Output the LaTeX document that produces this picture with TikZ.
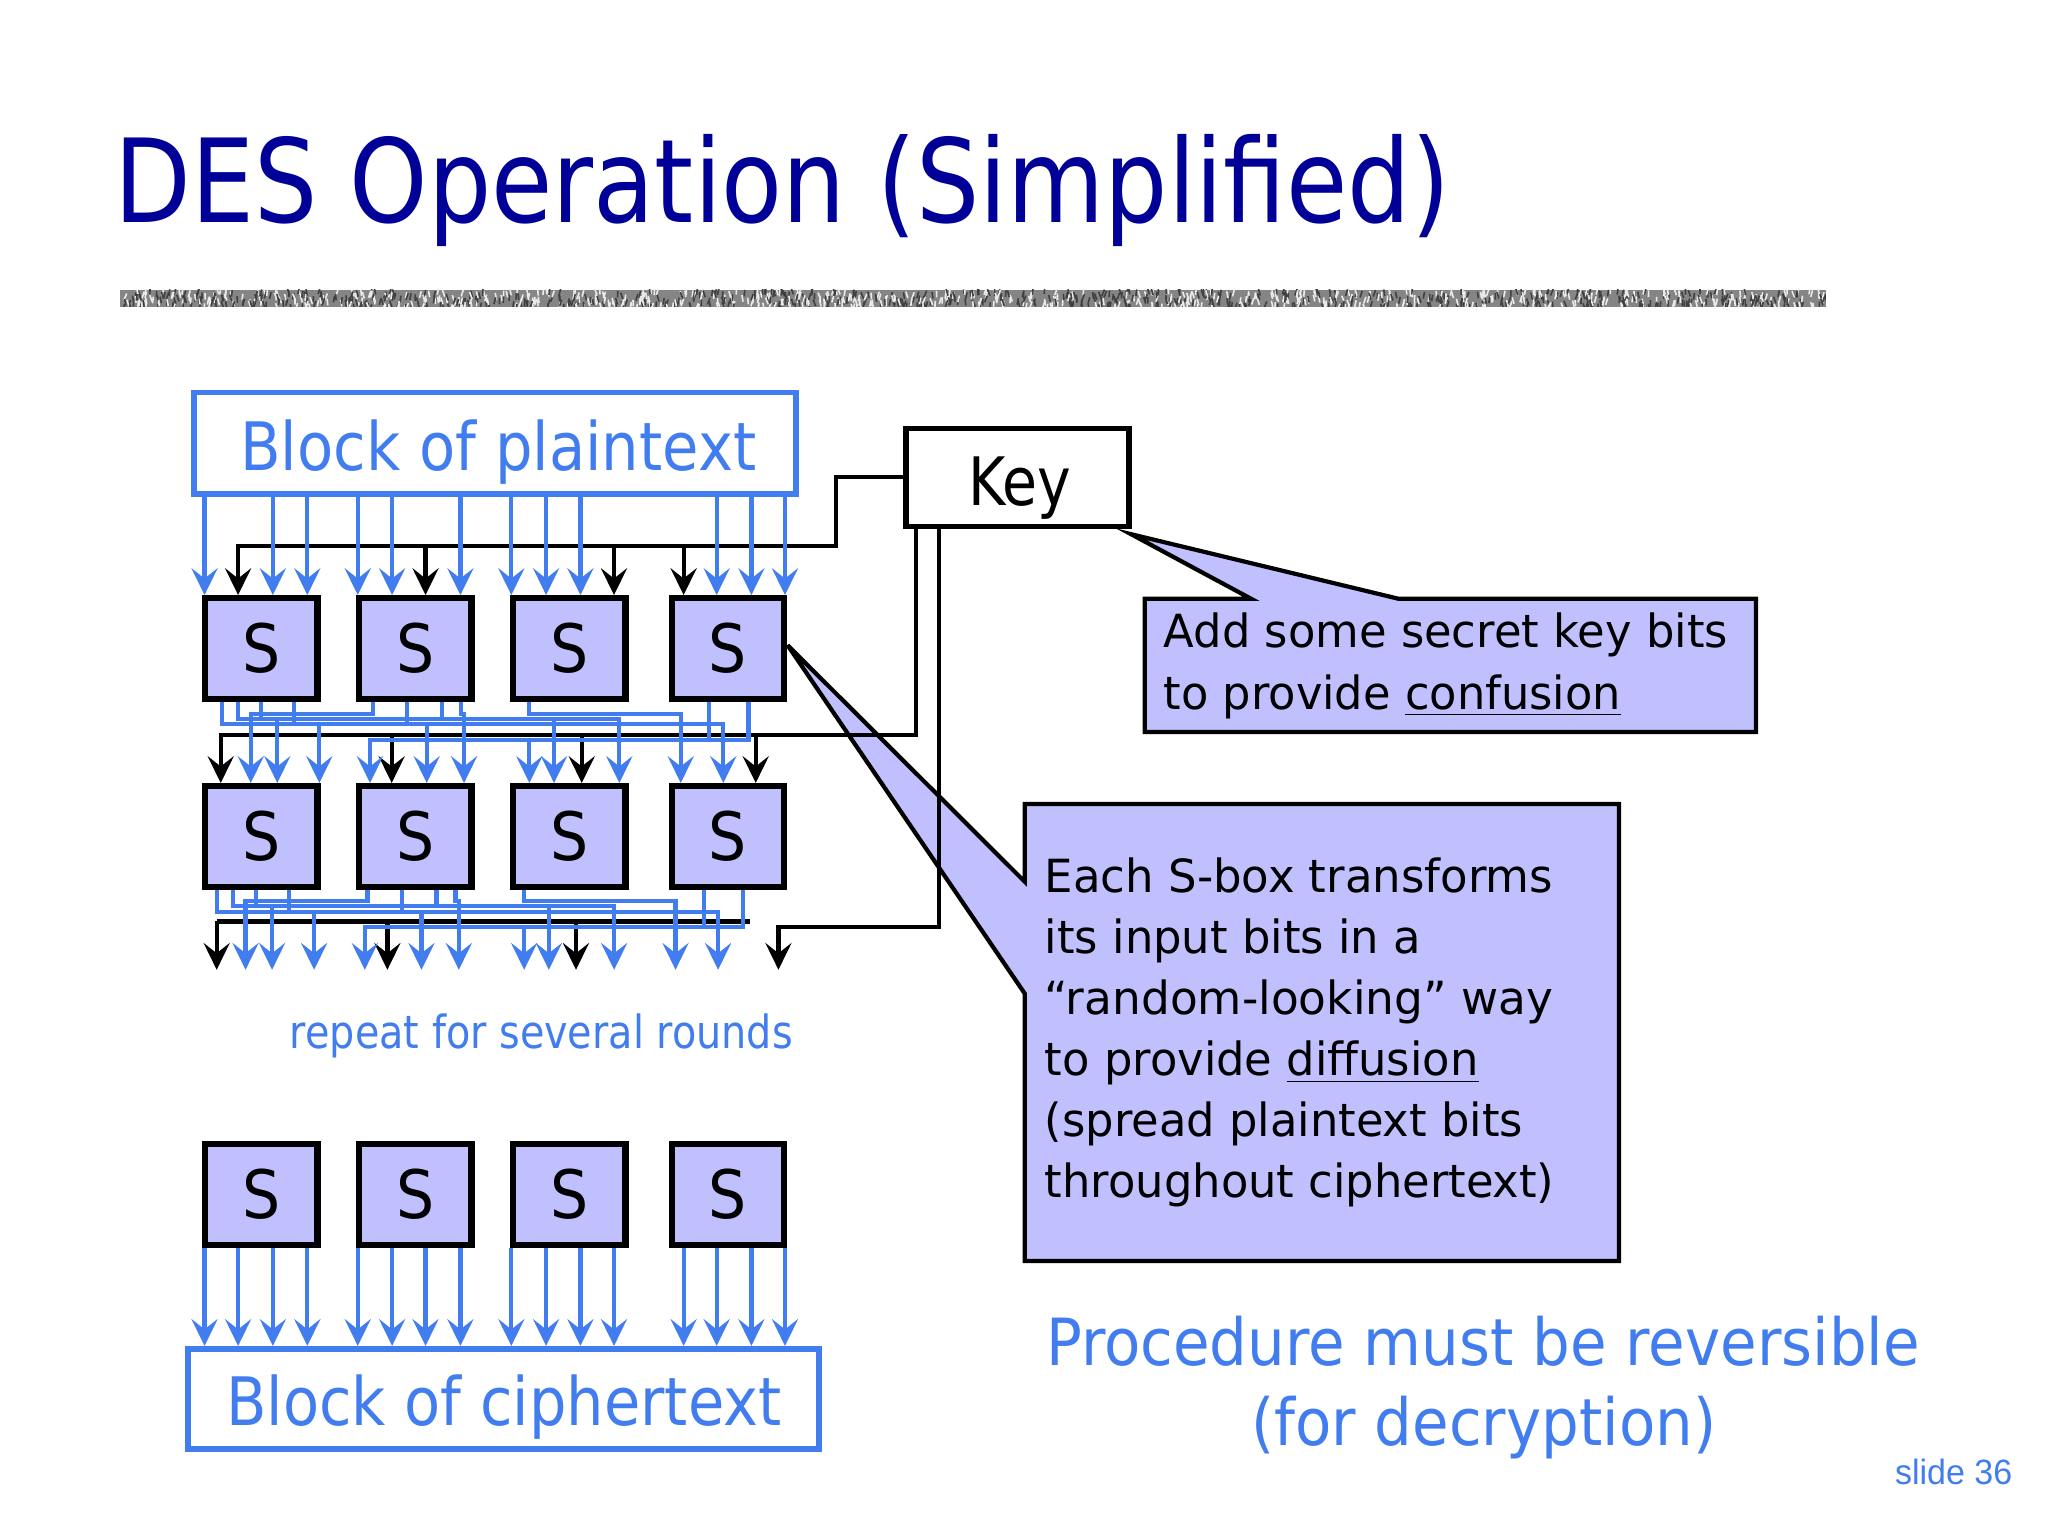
\documentclass[tikz,border=0pt]{standalone}
\usepackage{fontspec}
\usepackage{graphicx}
\setmainfont{DejaVu Sans}
\newfontfamily\arialf{Liberation Sans}
\usetikzlibrary{arrows.meta}
\newdimen\pxu \pxu=0.37163pt
\newcommand{\fitt}[2]{\resizebox{#1\pxu}{\height}{#2}}
\definecolor{navy}{RGB}{0,0,153}
\definecolor{myblue}{RGB}{66,125,240}
\definecolor{sfill}{RGB}{192,192,255}
\newcommand{\wiring}[4]{%
  \foreach \o/\l/\i in {170.2/554.6/553.8, 182.5/550.3/474.2, 199.9/550.3/212.3,
     225.1/554.6/244.5, 285.3/546.5/192, 311.9/554.6/326.7, 338.2/550.3/424.2,
     352.7/546.5/355.3, 405/546.5/521.2, 543.1/566.3/405.3, 573.0/566.3/283.3}
  {\draw[barrow] (\o+#1,0 |- #3) |- (\i+#1,\l+#2) -- (\i+#1,0 |- #4);}%
}
\begin{document}
\begin{tikzpicture}[x=0.0130612cm,y=-0.0130612cm,
  sbox/.style={draw=black,fill=sfill,line width=1.8pt,minimum width=86*\pxu,
     minimum height=77*\pxu,inner sep=0pt,font=\fontsize{19}{19}\selectfont},
  bbox/.style={draw=myblue,line width=1.6pt,fill=white,inner sep=0pt},
  txt/.style={anchor=base west,inner sep=0pt,outer sep=0pt},
  tip/.style={-{Stealth[length=7.6pt,width=7.4pt,inset=2.9pt]}},
  barrow/.style={draw=myblue,line width=1.2pt,tip},
  karrow/.style={draw=black,line width=1.2pt,tip},
  kline/.style={draw=black,line width=1.2pt},
  callout/.style={draw=black,fill=sfill,line width=1.2pt,line join=miter},
  ctext/.style={txt,font=\fontsize{13}{13}\selectfont},
]
\useasboundingbox (0,0) rectangle (1568,1176);
\fill[white] (0,0) rectangle (1568,1176);

% title and textured rule
\node[txt,text=navy,font=\fontsize{33}{33}\selectfont] (title) at (88,170)
  {\fitt{1022}{DES Operation (Simplified)}};
\begin{scope}
\clip (92,222) rectangle (1398,235);
\fill[black!48] (92,222) rectangle (1398,235);
\pgfmathsetseed{12}
\foreach \k in {1,...,1400}{
  \pgfmathsetmacro\xa{92+1306*rnd}
  \pgfmathsetmacro\ya{220+13*rnd}
  \pgfmathsetmacro\dx{4*rnd-2}
  \pgfmathtruncatemacro\cc{rnd<0.5 ? 75 : 8}
  \draw[black!\cc,line width=0.45pt] (\xa,\ya) -- ++(\dx,5);
}
\end{scope}

% callouts
\draw[callout] (876.5,458.5) -- (958,458.5) -- (866,409) -- (1071,458.5) --
  (1344.5,458.5) -- (1344.5,560.5) -- (876.5,560.5) -- cycle;
\draw[callout] (784.5,615.5) -- (1239.5,615.5) -- (1239.5,965.5) -- (784.5,965.5) --
  (784.5,760.6) -- (603,494) -- (784.5,675) -- cycle;
\node[ctext] (c1a) at (891,496) {\fitt{432}{Add some secret key bits}};
\node[ctext] (c1b) at (891,543) {\fitt{350}{to provide \underline{confusion}}};
\node[ctext] (c2a) at (800,683.5) {\fitt{389}{Each S-box transforms}};
\node[ctext] (c2b) at (800,730.2) {\fitt{288}{its input bits in a}};
\node[ctext] (c2c) at (800,776.9) {\fitt{389}{“random-looking” way}};
\node[ctext] (c2d) at (800,823.6) {\fitt{332}{to provide \underline{diffusion}}};
\node[ctext] (c2e) at (800,870.3) {\fitt{366}{(spread plaintext bits}};
\node[ctext] (c2f) at (800,917) {\fitt{390}{throughout ciphertext)}};

% blocks
\node[bbox,minimum width=461*\pxu,minimum height=77.7*\pxu] (pt) at (378.85,339.45) {};
\node[txt,text=myblue,font=\fontsize{19}{19}\selectfont] (ptl) at (184,360)
  {\fitt{395}{Block of plaintext}};
\node[bbox,minimum width=483.5*\pxu,minimum height=76.9*\pxu] (ct) at (385.45,1071.05) {};
\node[txt,text=myblue,font=\fontsize{19}{19}\selectfont] (ctl) at (173.3,1091.1)
  {\fitt{425}{Block of ciphertext}};
\node[draw=black,line width=1.6pt,fill=white,minimum width=170.8*\pxu,
  minimum height=75*\pxu,inner sep=0pt] (key) at (779.1,365.5) {};
\node[txt,font=\fontsize{19}{19}\selectfont] (keyl) at (741.4,387) {\fitt{79}{Key}};

% S-boxes
\foreach \r/\y in {1/496.5,2/640.4,3/914.5}{
  \foreach \c/\x in {1/200.2,2/318.1,3/435.8,4/557.4}{
    \node[sbox] (s\r\c) at (\x,\y) {\scalebox{0.9}[1]{S}};
  }
}
\coordinate (btm) at (0,742.5);

% key wiring
\draw[karrow] (key.west) -| (640.3,417.8) -- (182.3,417.8) -- (182.3,0 |- s11.north);
\foreach \x in {325.8,470.1,523.4}
  \draw[karrow] (\x,417.8) -- (\x,0 |- s11.north);
\draw[karrow] (701.4,0 |- key.south) |- (169,562.5) -- (169,0 |- s21.north);
\foreach \x in {299.9,445.4,578.6}
  \draw[karrow] (\x,562.5) -- (\x,0 |- s21.north);
\draw[kline] (165.9,705.5) -- (574.3,705.5);
\foreach \x in {165.9,296.6,441}
  \draw[karrow] (\x,705.5) -- (\x,0 |- btm);
\draw[karrow] (719.2,0 |- key.south) |- (596,709.7) -- (596,0 |- btm);

% data wiring
\foreach \x in {156.6,208.9,235.3,273.9,300.2,352.5,391.5,418.1,444.4,548.7,575.3,601.0}
  \draw[barrow] (\x,0 |- pt.south) -- (\x,0 |- s11.north);
\wiring{0}{0}{s11.south}{s21.north}
\wiring{-4}{143.6}{s21.south}{btm}
\foreach \x in {156.6,182.3,208.9,235.3,273.9,300.2,325.8,352.5,391.5,418.1,444.4,470.1,523.4,548.7,575.3,601.0}
  \draw[barrow] (\x,0 |- s31.south) -- (\x,0 |- ct.north);

% other texts
\node[txt,text=myblue,font=\fontsize{13}{13}\selectfont] (rep) at (222,803)
  {\fitt{385}{repeat for several rounds}};
\node[txt,text=myblue,font=\fontsize{18.5}{18.5}\selectfont] (proc1) at (801,1045.2)
  {\fitt{669}{Procedure must be reversible}};
\node[txt,text=myblue,font=\fontsize{18.5}{18.5}\selectfont] (proc2) at (958,1106.5)
  {\fitt{356}{(for decryption)}};
\node[txt,text=myblue,font=\arialf\fontsize{10}{10}\selectfont] (slide) at (1451,1136.5)
  {\fitt{89.6}{slide 36}};
\end{tikzpicture}
\end{document}
